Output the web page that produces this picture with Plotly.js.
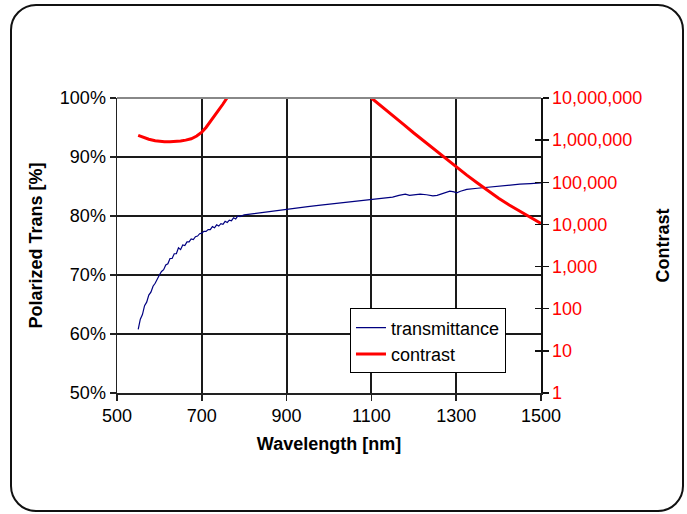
<!DOCTYPE html>
<html>
<head>
<meta charset="utf-8">
<script src="https://cdn.plot.ly/plotly-3.0.1.min.js"></script>
<style>
  html, body { margin: 0; padding: 0; background: #fff; }
  #wrap { position: relative; width: 687px; height: 514px; }
  #chart { position: absolute; left: 0; top: 0; width: 687px; height: 514px; }
  #frame { position: absolute; left: 10px; top: 4px; width: 674px; height: 508px;
           box-sizing: border-box; border: 2px solid #111; border-radius: 26px; pointer-events: none; }
</style>
</head>
<body>
<div id="wrap">
  <div id="chart"></div>
  <div id="frame"></div>
</div>
<script>
// Wavelength (nm) and polarized transmittance (%)
const transWavelength = [550,555,560,565,570,575,580,585,590,595,600,605,610,615,620,625,630,635,640,645,650,655,660,665,670,675,680,685,690,695,700,705,710,715,720,725,730,735,740,745,750,755,760,765,770,775,780,785,790,800,820,840,860,880,900,925,950,975,1000,1025,1050,1075,1100,1125,1150,1165,1180,1190,1200,1215,1230,1245,1255,1270,1285,1295,1300,1310,1325,1350,1375,1400,1425,1450,1475,1500];
const transmittance = [60.8,62.5,63.3,64.8,65.4,66.6,67.1,68.1,68.6,69.4,70.0,70.6,70.9,71.7,71.9,72.8,72.8,73.6,73.6,74.6,74.3,75.1,75.0,75.6,75.6,76.1,76.0,76.5,76.6,77.0,77.1,77.4,77.4,77.7,77.7,78.2,78.0,78.5,78.3,78.7,78.6,79.1,78.9,79.3,79.2,79.7,79.5,80.0,79.9,80.2,80.4,80.6,80.8,81.0,81.2,81.4,81.6,81.8,82.0,82.2,82.4,82.7,82.9,83.0,83.2,83.5,83.7,83.5,83.6,83.7,83.6,83.4,83.5,83.8,84.2,84.1,83.9,84.2,84.5,84.7,84.9,85.0,85.2,85.4,85.5,85.6];

// Wavelength (nm) and contrast (log scale); null = off scale gap
const contrastWavelength = [550,560,575,590,600,612,625,640,650,662,675,688,700,710,720,730,740,750,760,770,null,1100,1125,1150,1175,1200,1225,1250,1275,1300,1325,1350,1375,1400,1425,1450,1475,1500];
const contrast = [1300000,1180000,1050000,970000,940000,920000,910000,920000,950000,1000000,1080000,1250000,1550000,2000000,2700000,3700000,5200000,7200000,10000000,14500000,null,10000000,6300000,3900000,2400000,1480000,930000,583000,365000,230000,148000,96000,63000,42000,29000,20500,14500,10500];

// Axis ticks
const leftTickVals = [50,60,70,80,90,100];
const leftTickText = ['50%','60%','70%','80%','90%','100%'];
const rightTickVals = [1,10,100,1000,10000,100000,1000000,10000000];
const rightTickText = ['1','10','100','1,000','10,000','100,000','1,000,000','10,000,000'];
const xTickVals = [500,700,900,1100,1300,1500];

const FONT = 'Arial, "Liberation Sans", sans-serif';

const traces = [
  { x: transWavelength, y: transmittance, type: 'scatter', mode: 'lines', name: 'transmittance',
    line: { color: '#000080', width: 1.2 }, yaxis: 'y' },
  { x: contrastWavelength, y: contrast, type: 'scatter', mode: 'lines', name: 'contrast',
    line: { color: '#ff0000', width: 3 }, yaxis: 'y2', connectgaps: false },
  { x: [null], y: [null], type: 'scatter', mode: 'lines', yaxis: 'y3', showlegend: false, hoverinfo: 'skip' }
];

const layout = {
  width: 687, height: 514,
  margin: { l: 117, r: 146, t: 98, b: 121 },
  paper_bgcolor: 'rgba(0,0,0,0)', plot_bgcolor: '#fff',
  font: { family: FONT, size: 18, color: '#000' },
  showlegend: true,
  legend: { x: 0.5495, y: 0.287, xanchor: 'left', yanchor: 'top',
            bgcolor: '#fff', bordercolor: '#000', borderwidth: 1,
            font: { family: FONT, size: 18, color: '#000' }, tracegroupgap: 0 },
  xaxis: {
    range: [500, 1500], tickvals: xTickVals, ticks: 'outside', ticklen: 6, tickwidth: 1.5, tickcolor: '#222',
    showline: true, linecolor: '#222', linewidth: 1.5,
    showgrid: true, gridcolor: '#1a1a1a', gridwidth: 2, zeroline: false,
    tickfont: { size: 18, color: '#000' },
    title: { text: '<b>Wavelength [nm]</b>', font: { size: 18 }, standoff: 12 },
    automargin: false
  },
  yaxis: {
    range: [50, 100], tickvals: leftTickVals, ticktext: leftTickText, ticks: 'outside', ticklen: 6, tickwidth: 1.5, tickcolor: '#222',
    showline: true, linecolor: '#222', linewidth: 1.5,
    showgrid: true, gridcolor: '#1a1a1a', gridwidth: 2, zeroline: false,
    tickfont: { size: 18, color: '#000' },
    title: { text: '<b>Polarized Trans [%]</b>', font: { size: 18 }, standoff: 12 },
    automargin: false
  },
  yaxis2: {
    type: 'log', range: [0, 7], overlaying: 'y', side: 'right', anchor: 'x',
    tickvals: rightTickVals, ticktext: rightTickText, ticks: 'outside', ticklen: 6, tickwidth: 1.5, tickcolor: '#111',
    showline: true, linecolor: '#111', linewidth: 1.5, showgrid: false, zeroline: false,
    tickfont: { size: 18, color: '#ff0000' },
    title: { text: '<b>Contrast</b>', font: { size: 18 }, standoff: 15 },
    automargin: false
  },
  yaxis3: {
    type: 'log', range: [0, 7], overlaying: 'y', side: 'right', anchor: 'x',
    tickvals: rightTickVals, ticks: 'inside', ticklen: 6, tickwidth: 1.5, tickcolor: '#111',
    showticklabels: false, showline: false, showgrid: false, zeroline: false
  },
  shapes: [
    { type: 'line', xref: 'paper', yref: 'paper', x0: 0, x1: 1, y0: 1, y1: 1,
      line: { color: '#888', width: 2 } }
  ]
};

Plotly.newPlot('chart', traces, layout, { displayModeBar: false, staticPlot: true });
</script>
</body>
</html>
